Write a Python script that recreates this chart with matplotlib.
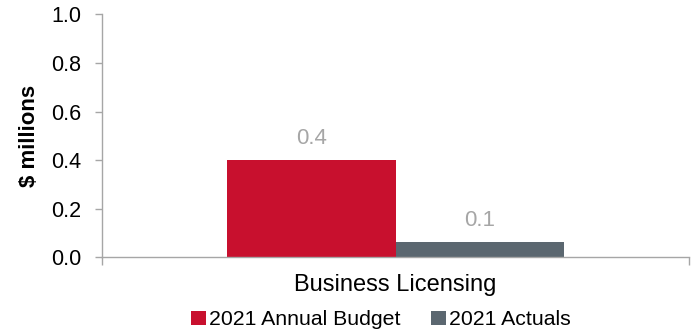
import matplotlib
matplotlib.use("Agg")
import matplotlib.pyplot as plt
from matplotlib.patches import Patch

plt.rcParams['font.family'] = ['Liberation Sans', 'DejaVu Sans']

categories = ["Business Licensing"]
series_names = ["2021 Annual Budget", "2021 Actuals"]
series_values = [[0.40], [0.062]]
series_colors = ["#C8102E", "#5B6770"]
y_ticks = [0.0, 0.2, 0.4, 0.6, 0.8, 1.0]

axis_grey = "#A6A6A6"
label_grey = "#A6A6A6"

fig = plt.figure(figsize=(6.95, 3.35), dpi=100)
ax = fig.add_axes([0.1468, 0.232, 0.8446, 0.725])

bar_w = 0.287
n = len(series_names)
for i, (name, vals, col) in enumerate(zip(series_names, series_values, series_colors)):
    xs = [c + (i - (n - 1) / 2) * bar_w for c in range(len(categories))]
    bars = ax.bar(xs, vals, width=bar_w, color=col, label=name, zorder=2)
    for b, v in zip(bars, vals):
        ax.annotate(f"{v:.1f}", (b.get_x() + b.get_width() / 2, v),
                    xytext=(0, 8), textcoords="offset points",
                    ha="center", va="bottom", fontsize=16, color=label_grey)

ax.set_xlim(-0.5, len(categories) - 0.5)
ax.set_ylim(0, 1.0)
ax.set_yticks(y_ticks)
ax.set_yticklabels([f"{t:.1f}" for t in y_ticks], fontsize=15.5)
ax.set_xticks(range(len(categories)))
ax.set_xticklabels(categories, fontsize=17)
ax.tick_params(axis='x', length=0, pad=12)
ax.tick_params(axis='y', length=5, color=axis_grey, width=1, pad=10)

# category boundary ticks on the x axis
ax.set_xticks([-0.5 + k for k in range(len(categories) + 1)], minor=True)
ax.tick_params(axis='x', which='minor', length=6, color=axis_grey, width=1)

for s in ["top", "right"]:
    ax.spines[s].set_visible(False)
for s in ["left", "bottom"]:
    ax.spines[s].set_color(axis_grey)
    ax.spines[s].set_linewidth(1)

ax.set_ylabel("$ millions", fontsize=16, fontweight="bold", labelpad=8)

handles = [Patch(facecolor=c, edgecolor='none') for c in series_colors]
fig.legend(handles, series_names, loc="center", bbox_to_anchor=(0.548, 0.045),
           ncol=2, frameon=False, fontsize=15.3, handlelength=0.7, handleheight=0.7,
           handletextpad=0.15, columnspacing=1.45)

fig.savefig("out.png", dpi=100)
